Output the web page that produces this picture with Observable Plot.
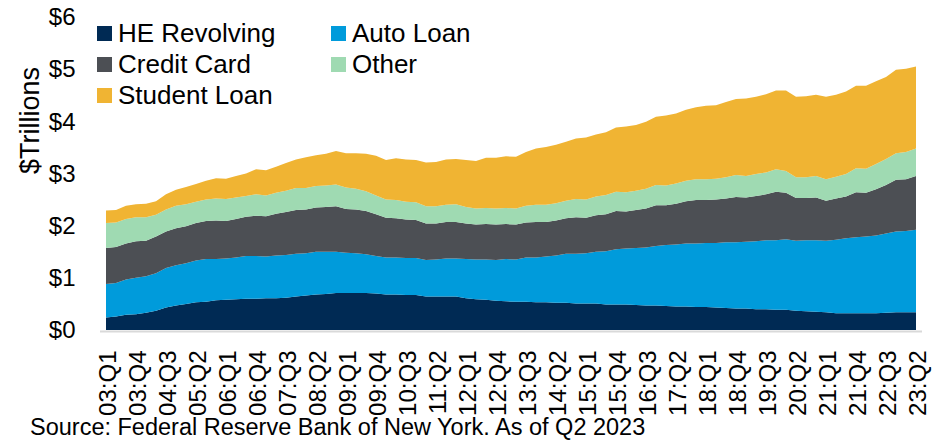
<!DOCTYPE html>
<html>
<head>
<meta charset="utf-8">
<script src="https://cdn.jsdelivr.net/npm/d3@7"></script>
<script src="https://cdn.jsdelivr.net/npm/@observablehq/plot@0.6"></script>
<style>
  html, body { margin: 0; padding: 0; background: #fff; }
  body { font-family: "Liberation Sans", Arial, sans-serif; }
  #wrap { position: relative; width: 951px; height: 441px; overflow: hidden; }
  #legend { position: absolute; left: 97px; top: 18px; display: grid;
    grid-template-columns: 234px auto; grid-auto-rows: 31.2px; color: #000; font-size: 26px; }
  #legend .item { display: flex; align-items: center; white-space: nowrap; }
  #legend .sw { width: 15px; height: 15px; margin-right: 6px; flex: none; }
  #caption { position: absolute; left: 30px; top: 416px; font-size: 23.5px; line-height: 1; color: #000; white-space: nowrap; }
</style>
</head>
<body>
<div id="wrap"></div>
<script>
const seriesNames = ["HE Revolving", "Auto Loan", "Credit Card", "Other", "Student Loan"];
const seriesColors = ["#002A54", "#009BDB", "#4C4F54", "#9FDAB2", "#F0B433"];

const tickLabels = ["03:Q1","03:Q4","04:Q3","05:Q2","06:Q1","06:Q4","07:Q3","08:Q2","09:Q1","09:Q4",
  "10:Q3","11:Q2","12:Q1","12:Q4","13:Q3","14:Q2","15:Q1","15:Q4","16:Q3","17:Q2",
  "18:Q1","18:Q4","19:Q3","20:Q2","21:Q1","21:Q4","22:Q3","23:Q2"];

const yTicks = [0, 1, 2, 3, 4, 5, 6];

// Quarters 2003:Q1 .. 2023:Q2 (categories)
const quarters = [];
for (let y = 3; y <= 23; y++) {
  for (let q = 1; q <= 4; q++) {
    if (y === 23 && q > 2) break;
    quarters.push(String(y).padStart(2, "0") + ":Q" + q);
  }
}

// $ trillions, 2003:Q1 .. 2023:Q2
const heRevolving = [
  0.24,0.26,0.29,0.30, 0.33,0.37,0.43,0.47, 0.50,0.53,0.54,0.57, 0.58,0.59,0.60,0.60,
  0.61,0.61,0.62,0.64, 0.66,0.68,0.69,0.71, 0.71,0.71,0.71,0.70, 0.68,0.68,0.67,0.67,
  0.64,0.64,0.64,0.64, 0.61,0.59,0.58,0.56, 0.55,0.54,0.54,0.53, 0.53,0.52,0.52,0.51,
  0.51,0.51,0.49,0.49, 0.49,0.48,0.47,0.47, 0.46,0.45,0.45,0.44, 0.44,0.43,0.42,0.41,
  0.41,0.40,0.40,0.39, 0.39,0.37,0.36,0.35, 0.34,0.32,0.32,0.32, 0.32,0.32,0.33,0.34,
  0.34,0.34];
const autoLoan = [
  0.64,0.64,0.68,0.70, 0.70,0.72,0.76,0.77, 0.78,0.80,0.82,0.79, 0.79,0.80,0.82,0.82,
  0.80,0.82,0.82,0.82, 0.81,0.82,0.81,0.79, 0.77,0.76,0.74,0.72, 0.71,0.71,0.71,0.71,
  0.70,0.71,0.73,0.73, 0.75,0.76,0.77,0.78, 0.81,0.81,0.85,0.86, 0.88,0.91,0.94,0.95,
  0.96,0.99,1.02,1.06, 1.07,1.09,1.11,1.14, 1.17,1.19,1.21,1.22, 1.23,1.24,1.26,1.27,
  1.28,1.30,1.32,1.33, 1.35,1.34,1.36,1.37, 1.37,1.41,1.44,1.46, 1.47,1.49,1.52,1.55,
  1.56,1.58];
const creditCard = [
  0.69,0.69,0.69,0.70, 0.68,0.70,0.70,0.71, 0.71,0.72,0.73,0.74, 0.72,0.74,0.75,0.77,
  0.77,0.80,0.82,0.84, 0.84,0.85,0.86,0.87, 0.84,0.84,0.83,0.80, 0.76,0.75,0.74,0.73,
  0.70,0.69,0.70,0.70, 0.68,0.67,0.68,0.68, 0.67,0.67,0.67,0.68, 0.66,0.67,0.68,0.70,
  0.68,0.70,0.71,0.73, 0.71,0.73,0.75,0.78, 0.76,0.78,0.81,0.83, 0.82,0.83,0.84,0.87,
  0.85,0.87,0.88,0.93, 0.89,0.82,0.81,0.82, 0.77,0.79,0.80,0.86, 0.84,0.89,0.93,0.99,
  0.99,1.03];
const other = [
  0.48,0.47,0.47,0.46, 0.45,0.42,0.42,0.43, 0.42,0.41,0.41,0.42, 0.42,0.41,0.40,0.41,
  0.40,0.40,0.41,0.42, 0.41,0.41,0.41,0.42, 0.41,0.40,0.38,0.36, 0.35,0.35,0.34,0.34,
  0.33,0.33,0.33,0.34, 0.32,0.31,0.31,0.31, 0.31,0.31,0.32,0.33, 0.33,0.33,0.34,0.35,
  0.35,0.36,0.37,0.37, 0.37,0.37,0.38,0.39, 0.38,0.39,0.39,0.40, 0.40,0.40,0.41,0.42,
  0.41,0.42,0.42,0.43, 0.42,0.40,0.40,0.41, 0.41,0.42,0.43,0.46, 0.46,0.48,0.50,0.51,
  0.52,0.53];
const studentLoan = [
  0.24,0.24,0.25,0.25, 0.26,0.26,0.29,0.31, 0.33,0.34,0.36,0.39, 0.39,0.41,0.43,0.48,
  0.48,0.50,0.53,0.55, 0.59,0.59,0.61,0.64, 0.66,0.68,0.72,0.76, 0.76,0.80,0.81,0.81,
  0.84,0.85,0.87,0.87, 0.90,0.91,0.96,0.97, 0.99,0.99,1.03,1.08, 1.11,1.12,1.13,1.16,
  1.19,1.19,1.20,1.23, 1.26,1.26,1.28,1.31, 1.34,1.34,1.36,1.38, 1.41,1.41,1.44,1.46,
  1.49,1.48,1.50,1.51, 1.54,1.54,1.55,1.56, 1.58,1.57,1.58,1.58, 1.59,1.59,1.57,1.60,
  1.60,1.57];

const seriesValues = [heRevolving, autoLoan, creditCard, other, studentLoan];
const data = [];
seriesNames.forEach((name, s) => {
  quarters.forEach((q, i) => data.push({quarter: q, series: name, value: seriesValues[s][i]}));
});

const chart = Plot.plot({
  width: 951,
  height: 441,
  marginLeft: 100,
  marginRight: 29,
  marginTop: 17,
  marginBottom: 111,
  style: {fontFamily: "'Liberation Sans', Arial, sans-serif", color: "#000", background: "#fff", overflow: "visible"},
  x: {type: "point", domain: quarters, padding: 0},
  y: {domain: [0, 6]},
  color: {domain: seriesNames, range: seriesColors},
  marks: [
    Plot.areaY(data, {x: "quarter", y: "value", fill: "series", order: seriesNames}),
    Plot.ruleY([0], {stroke: "#d9d9d9", strokeWidth: 2, dy: 1}),
    Plot.axisY({ticks: yTicks, tickFormat: d => "$" + d, tickSize: 0, tickPadding: 25, fontSize: 24, label: null}),
    Plot.axisX({ticks: tickLabels, tickRotate: -90, tickSize: 0, tickPadding: 20, fontSize: 24, label: null, dx: 2}),
    Plot.text(["$Trillions"], {frameAnchor: "left", dx: -70, rotate: -90, fontSize: 27, fill: "#000"})
  ]
});

const wrap = document.getElementById("wrap");
wrap.appendChild(chart);

const legend = document.createElement("div");
legend.id = "legend";
seriesNames.forEach((name, i) => {
  const item = document.createElement("div");
  item.className = "item";
  const sw = document.createElement("span");
  sw.className = "sw";
  sw.style.background = seriesColors[i];
  const label = document.createElement("span");
  label.textContent = name;
  item.appendChild(sw);
  item.appendChild(label);
  legend.appendChild(item);
});
wrap.appendChild(legend);

const caption = document.createElement("div");
caption.id = "caption";
caption.textContent = "Source: Federal Reserve Bank of New York. As of Q2 2023";
wrap.appendChild(caption);
</script>
</body>
</html>
